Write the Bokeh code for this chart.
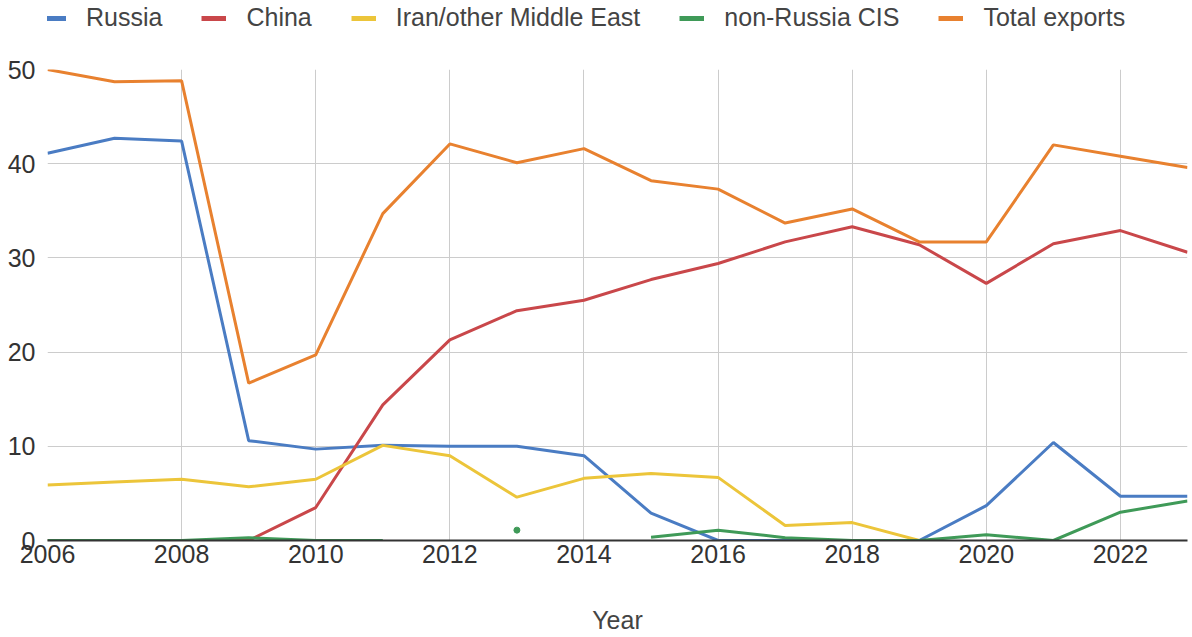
import math
from bokeh.plotting import figure
from bokeh.layouts import column
from bokeh.models import FixedTicker, Legend, LegendItem
from bokeh.embed import file_html
from bokeh.resources import INLINE

nan = float("nan")

years = list(range(2006, 2024))
russia = [41.1, 42.7, 42.4, 10.6, 9.7, 10.1, 10.0, 10.0, 9.0, 2.9, 0, 0, 0, 0, 3.7, 10.4, 4.7, 4.7]
china = [0, 0, 0, 0, 3.5, 14.4, 21.3, 24.4, 25.5, 27.7, 29.4, 31.7, 33.3, 31.4, 27.3, 31.5, 32.9, 30.6]
iran = [5.9, 6.2, 6.5, 5.7, 6.5, 10.1, 9.0, 4.6, 6.6, 7.1, 6.7, 1.6, 1.9, 0, nan, nan, nan, nan]
cis = [0, 0, 0, 0.3, 0, 0, nan, 1.1, nan, 0.35, 1.1, 0.3, 0, 0, 0.6, 0, 3.0, 4.2]
total = [50.0, 48.7, 48.8, 16.7, 19.7, 34.7, 42.1, 40.1, 41.6, 38.2, 37.3, 33.7, 35.2, 31.7, 31.7, 42.0, 40.8, 39.6]

series_names = ["Russia", "China", "Iran/other Middle East", "non-Russia CIS", "Total exports"]
series_values = [russia, china, iran, cis, total]
colors = ["#4a7cc3", "#c9474a", "#ecc53a", "#3f9a58", "#e8812f"]

x_ticks = list(range(2006, 2023, 2))
y_ticks = [0, 10, 20, 30, 40, 50]

FONT = "Liberation Sans"
FS = "25px"

# ---- legend strip ----
lg = figure(width=1191, height=40, output_backend="svg", toolbar_location=None,
            x_range=(0, 1), y_range=(0, 1), x_axis_type=None, y_axis_type=None,
            min_border_left=0, min_border_right=0, min_border_top=0, min_border_bottom=0)
lg.grid.visible = False
lg.outline_line_color = None

items = []
for name, col in zip(series_names, colors):
    # swatch renderers kept outside the visible range; only their legend glyph shows
    dummy = lg.line([-10, -9], [-10, -10], line_color=col, line_width=5)
    items.append(LegendItem(label=name, renderers=[dummy]))

legend = Legend(items=items, orientation="horizontal", location=(-6, 8),
                label_text_font=FONT, label_text_font_size=FS, label_text_color="#444444",
                glyph_width=25, glyph_height=24, label_height=24, label_standoff=20,
                spacing=39, padding=0, margin=0,
                border_line_color=None, background_fill_alpha=0)
lg.add_layout(legend, "center")

# ---- main chart ----
p = figure(width=1191, height=596, output_backend="svg", toolbar_location=None,
           x_range=(2006, 2023), y_range=(0, 50),
           min_border_left=47, min_border_right=4, min_border_top=29, min_border_bottom=96)
p.outline_line_color = None
p.background_fill_color = "white"

p.xaxis.ticker = FixedTicker(ticks=x_ticks)
p.yaxis.ticker = FixedTicker(ticks=y_ticks)
for ax in (p.xaxis[0], p.yaxis[0]):
    ax.major_label_text_font = FONT
    ax.major_label_text_font_size = FS
    ax.major_label_text_color = "#333333"
    ax.major_tick_line_color = None
    ax.minor_tick_line_color = None
    ax.major_tick_out = 0
    ax.major_tick_in = 0
p.xaxis.axis_line_color = "#333333"
p.xaxis.axis_line_width = 2
p.yaxis.axis_line_color = None
p.xaxis.major_label_standoff = 4
p.yaxis.major_label_standoff = 12

p.xaxis.axis_label = "Year"
p.xaxis.axis_label_text_font = FONT
p.xaxis.axis_label_text_font_size = FS
p.xaxis.axis_label_text_font_style = "normal"
p.xaxis.axis_label_text_color = "#444444"
p.xaxis.axis_label_standoff = 40

p.xgrid.ticker = FixedTicker(ticks=x_ticks)
p.ygrid.ticker = FixedTicker(ticks=y_ticks)
p.xgrid.grid_line_color = "#cccccc"
p.ygrid.grid_line_color = "#cccccc"

for name, vals, col in zip(series_names, series_values, colors):
    p.line(years, vals, line_color=col, line_width=3)
    iso_x, iso_y = [], []
    for i, v in enumerate(vals):
        if math.isnan(v):
            continue
        left = i > 0 and not math.isnan(vals[i - 1])
        right = i < len(vals) - 1 and not math.isnan(vals[i + 1])
        if not left and not right:
            iso_x.append(years[i])
            iso_y.append(v)
    if iso_x:
        p.scatter(iso_x, iso_y, size=6, fill_color=col, line_color=col)

layout = column(lg, p, spacing=0)
open("out.html", "w").write(file_html(layout, INLINE))
